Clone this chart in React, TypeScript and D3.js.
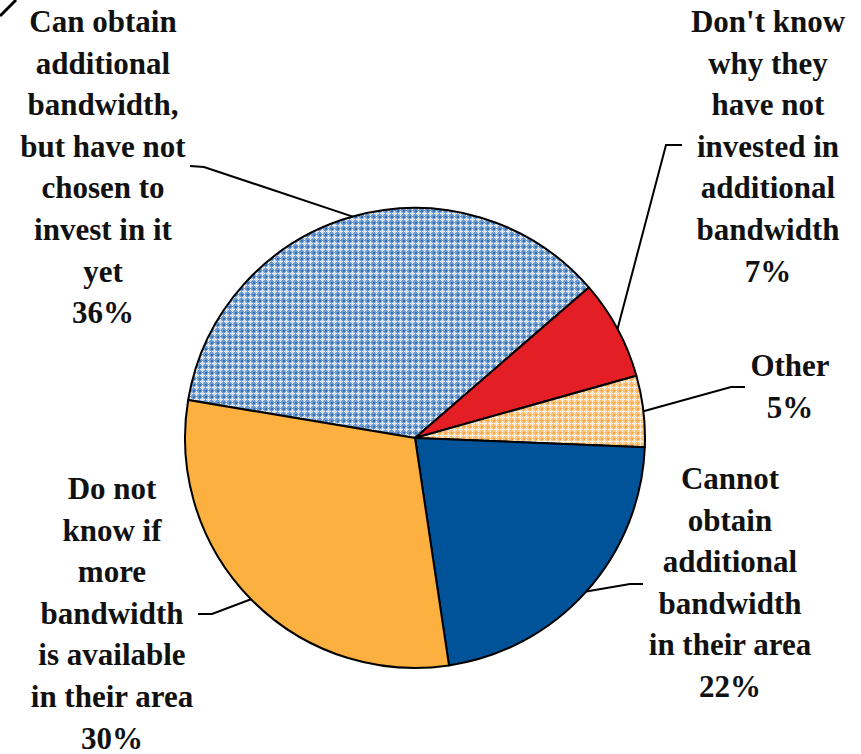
import React from "react";
import * as d3 from "d3";

const categories = [
  "Can obtain additional bandwidth, but have not chosen to invest in it yet",
  "Don't know why they have not invested in additional bandwidth",
  "Other",
  "Cannot obtain additional bandwidth in their area",
  "Do not know if more bandwidth is available in their area",
];
const values = [36, 7, 5, 22, 30];
const labelLines = [
  ["Can obtain", "additional", "bandwidth,", "but have not", "chosen to", "invest in it", "yet"],
  ["Don't know", "why they", "have not", "invested in", "additional", "bandwidth"],
  ["Other"],
  ["Cannot", "obtain", "additional", "bandwidth", "in their area"],
  ["Do not", "know if", "more", "bandwidth", "is available", "in their area"],
];

// layout (positions only)
const W = 861;
const H = 754;
const CX = 415;
const CY = 438;
const R = 230;
const START_DEG = -80.5;
const LINE_H = 41.6;
const FONT = "Liberation Serif";
const labelLayout = [
  { x: 103, y: 32, elbow: [190, 166], knee: [204, 167] },
  { x: 768, y: 32, elbow: [682, 145], knee: [666, 145] },
  { x: 790, y: 376, elbow: [745, 387], knee: [731, 387] },
  { x: 730, y: 489, elbow: [643, 584], knee: [630, 584] },
  { x: 112, y: 499, elbow: [198, 614], knee: [212, 614] },
];
const fills = ["url(#patBlue)", "#e31e24", "url(#patOrange)", "#005399", "#fbb040"];

export default function App() {
  const pie = d3
    .pie<number>()
    .sort(null)
    .startAngle((START_DEG * Math.PI) / 180)
    .endAngle((START_DEG * Math.PI) / 180 + 2 * Math.PI)
    .value((d) => d);
  const arcs = pie(values);
  const arc = d3.arc<d3.PieArcDatum<number>>().innerRadius(0).outerRadius(R);
  const total = d3.sum(values);
  const fmt = (v: number) => `${Math.round((v / total) * 100)}%`;

  return (
    <svg width={W} height={H} style={{ position: "absolute", left: 0, top: 0, background: "#fff" }}>
      <defs>
        <pattern id="patBlue" width={6} height={6} patternUnits="userSpaceOnUse">
          <rect width={6} height={6} fill="#6d9bd2" />
          <rect x={0} y={0} width={2} height={2} fill="#3572b8" />
          <rect x={3} y={1} width={1} height={5} fill="#ffffff" />
          <rect x={1} y={3} width={5} height={1} fill="#ffffff" />
          <rect x={2} y={2} width={3} height={3} fill="#c3d7ef" />
          <rect x={3} y={3} width={1} height={1} fill="#ffffff" />
        </pattern>
        <pattern id="patOrange" width={6} height={6} patternUnits="userSpaceOnUse">
          <rect width={6} height={6} fill="#fbc27a" />
          <rect x={0} y={0} width={2} height={2} fill="#f7a745" />
          <rect x={3} y={1} width={1} height={5} fill="#ffffff" />
          <rect x={1} y={3} width={5} height={1} fill="#ffffff" />
          <rect x={2} y={2} width={3} height={3} fill="#fde3c2" />
          <rect x={3} y={3} width={1} height={1} fill="#ffffff" />
        </pattern>
      </defs>

      <line x1={0} y1={16} x2={16} y2={0} stroke="#000" strokeWidth={3} />

      <g transform={`translate(${CX},${CY})`}>
        {arcs.map((a, i) => (
          <path
            key={categories[i]}
            d={arc(a) || ""}
            fill={fills[i]}
            stroke="#000"
            strokeWidth={2}
            strokeLinejoin="round"
          />
        ))}
      </g>

      {arcs.map((a, i) => {
        const mid = (a.startAngle + a.endAngle) / 2;
        const px = CX + R * Math.sin(mid);
        const py = CY - R * Math.cos(mid);
        const L = labelLayout[i];
        return (
          <polyline
            key={`lead-${i}`}
            points={`${L.elbow[0]},${L.elbow[1]} ${L.knee[0]},${L.knee[1]} ${px},${py}`}
            fill="none"
            stroke="#000"
            strokeWidth={2}
          />
        );
      })}

      {labelLines.map((lines, i) => {
        const L = labelLayout[i];
        const all = [...lines, fmt(values[i])];
        return (
          <text
            key={`lab-${i}`}
            textAnchor="middle"
            fill="#111"
            fontFamily={FONT}
            fontWeight="bold"
            fontSize={31}
          >
            {all.map((t, j) => (
              <tspan key={j} x={L.x} y={L.y + j * LINE_H}>
                {t}
              </tspan>
            ))}
          </text>
        );
      })}
    </svg>
  );
}
